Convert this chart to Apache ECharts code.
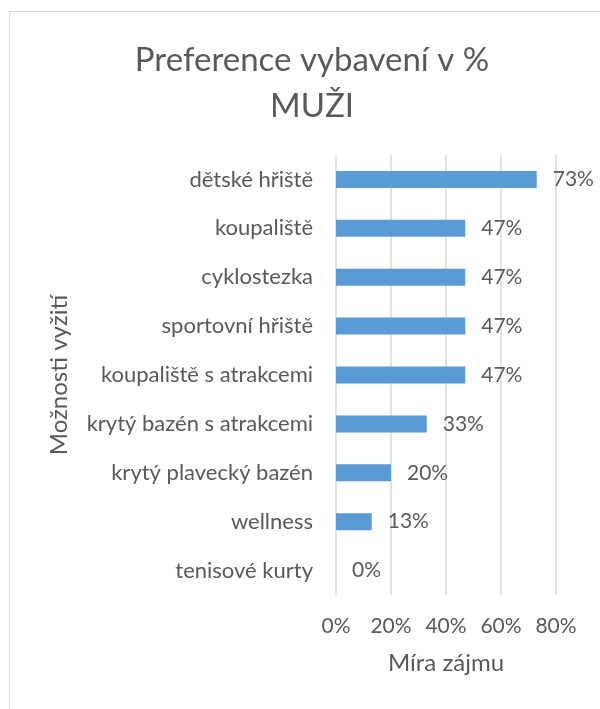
<!DOCTYPE html>
<html>
<head>
<meta charset="utf-8">
<script src="https://cdn.jsdelivr.net/npm/echarts@6/dist/echarts.min.js"></script>
<style>
  html, body { margin: 0; padding: 0; background: #fff; }
  #chart { width: 600px; height: 709px; }
</style>
</head>
<body>
<div id="chart"></div>
<script>
// categories listed bottom -> top (category axis on y starts at the bottom)
const categories = [
  'tenisové kurty',
  'wellness',
  'krytý plavecký bazén',
  'krytý bazén s atrakcemi',
  'koupaliště s atrakcemi',
  'sportovní hřiště',
  'cyklostezka',
  'koupaliště',
  'dětské hřiště'
]
const values = [0, 13, 20, 33, 47, 47, 47, 47, 73]
const tickLabels = ['0%', '20%', '40%', '60%', '80%']

const textColor = '#595959'
const fontFamily = 'Lato, "Open Sans", sans-serif'

var myChart = echarts.init(document.getElementById('chart'))
myChart.setOption({
  animation: false,
  textStyle: { fontFamily: fontFamily },
  graphic: [
    {
      type: 'rect',
      shape: { x: 9.5, y: 11.5, width: 620, height: 720 },
      style: { fill: 'none', stroke: '#d9d9d9', lineWidth: 1 },
      silent: true
    }
  ],
  title: {
    text: 'Preference vybavení v %\nMUŽI',
    left: 307,
    top: 32,
    textAlign: 'center',
    textStyle: {
      fontSize: 33,
      fontWeight: 'normal',
      color: textColor,
      lineHeight: 46,
      fontFamily: fontFamily
    }
  },
  grid: {
    left: 336,
    right: 44,
    top: 155,
    bottom: 114
  },
  xAxis: {
    type: 'value',
    min: 0,
    max: 80,
    interval: 20,
    name: 'Míra zájmu',
    nameLocation: 'middle',
    nameGap: 56,
    nameTextStyle: { fontSize: 24, color: textColor },
    axisLine: { show: false },
    axisTick: { show: false },
    splitLine: { lineStyle: { color: '#d9d9d9', width: 1.5 } },
    axisLabel: {
      fontSize: 21,
      color: textColor,
      margin: 21,
      formatter: function (v) { return tickLabels[v / 20] }
    }
  },
  yAxis: {
    type: 'category',
    data: categories,
    name: 'Možnosti vyžití',
    nameLocation: 'middle',
    nameGap: 265,
    nameRotate: 90,
    nameTextStyle: { fontSize: 24, color: textColor },
    axisLine: { show: false },
    axisTick: { show: false },
    axisLabel: { fontSize: 22, color: textColor, margin: 23 }
  },
  series: [
    {
      type: 'bar',
      data: values,
      barWidth: 17,
      itemStyle: { color: '#5b9bd5' },
      label: {
        show: true,
        position: 'right',
        distance: 16,
        fontSize: 21,
        color: textColor,
        formatter: '{c}%'
      }
    }
  ]
})
</script>
</body>
</html>
